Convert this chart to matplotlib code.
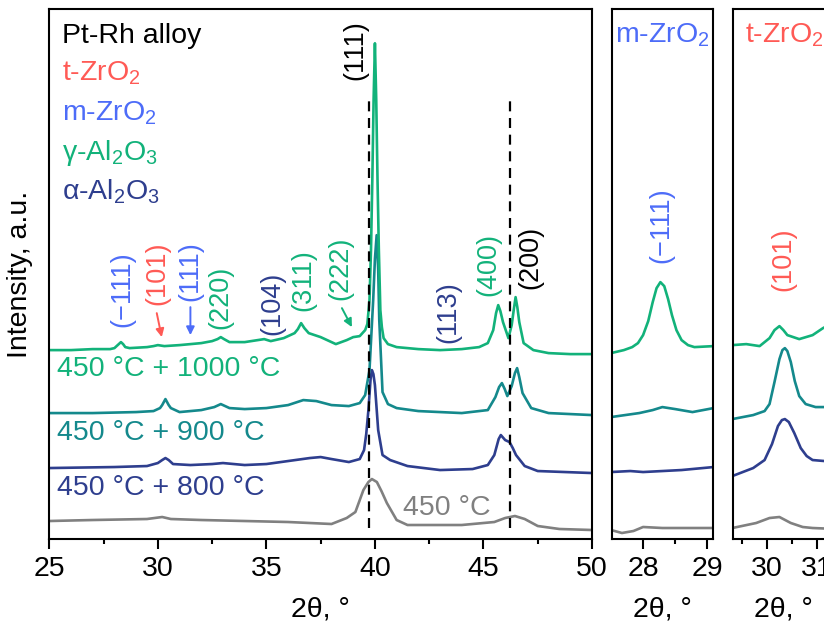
import matplotlib
matplotlib.use("Agg")
import matplotlib.pyplot as plt
from matplotlib.ticker import MultipleLocator

plt.rcParams['font.family'] = ['Liberation Sans', 'DejaVu Sans']
plt.rcParams['mathtext.fontset'] = 'custom'
plt.rcParams['mathtext.rm'] = 'Liberation Sans'
plt.rcParams['mathtext.it'] = 'Liberation Sans'
plt.rcParams['mathtext.default'] = 'regular'

# ---------------- data (2theta, intensity a.u.) ----------------
# main panel 25-50
g_x = [25, 26, 27, 27.8, 28.0, 28.1, 28.2, 28.3, 28.4, 28.5, 28.7, 29.5, 29.8, 30.0, 30.3, 31, 31.5, 32.0,
       32.5, 32.75, 32.9, 33.05, 33.3, 34.0, 34.6, 34.9, 35.2, 35.8, 36.3, 36.45, 36.6, 36.75, 36.95, 37.5,
       38.2, 38.7, 39.0, 39.3, 39.55, 39.65, 39.75, 39.82, 39.88, 39.94, 40.0, 40.06, 40.12, 40.18, 40.25,
       40.32, 40.4, 40.6, 41, 42, 43, 44, 44.8, 45.2, 45.45, 45.58, 45.68, 45.78, 45.9, 46.15, 46.3, 46.4,
       46.48, 46.56, 46.65, 46.85, 47.3, 48, 49, 50]
g_y = [189, 189, 190, 190, 191, 193, 195, 197, 195, 192, 191, 192, 193, 194, 193, 194, 195, 196,
       198, 200, 202, 200, 197, 197, 199, 200, 198, 201, 206, 210, 216, 211, 206, 202,
       195, 199, 202, 203, 209, 215, 239, 290, 359, 440, 496, 440, 359, 290, 229,
       212, 201, 195, 192, 190, 189, 190, 192, 196, 209, 226, 234, 228, 217, 201, 214, 230,
       242, 232, 217, 196, 189, 186, 185, 185]

t_x = [25, 27, 29, 29.8, 30.1, 30.2, 30.35, 30.5, 30.6, 31.0, 32.0, 32.6, 32.9, 33.3, 34, 35, 36, 36.7,
       37.3, 38, 38.8, 39.3, 39.55, 39.75, 39.92, 40.0, 40.08, 40.15, 40.2, 40.35, 40.6, 41, 42, 44, 45.2,
       45.55, 45.72, 45.85, 45.98, 46.1, 46.3, 46.45, 46.55, 46.65, 46.8, 47.2, 48, 50]
t_y = [126, 126, 127, 128, 131, 134, 140, 134, 131, 127, 129, 132, 135, 131, 130, 131, 134, 139,
       138, 134, 133, 136, 144, 169, 239, 280, 304, 270, 219, 147, 135, 131, 128, 126, 129,
       142, 152, 156, 150, 143, 153, 166, 171, 162, 146, 131, 126, 124]

n_x = [25, 28, 29.5, 30.0, 30.2, 30.35, 30.5, 30.7, 31.5, 32.5, 33, 34, 35, 36, 37.0, 37.5, 38.0, 38.8,
       39.3, 39.5, 39.6, 39.7, 39.8, 39.86, 39.93, 40.0, 40.15, 40.35, 40.7, 41.5, 43, 44.5, 45.2, 45.5,
       45.7, 45.8, 46.0, 46.2, 46.35, 46.5, 46.9, 47.5, 50]
n_y = [71, 72, 73, 76, 79, 81, 79, 75, 74, 75, 76, 74, 75, 78, 81, 82, 80, 77,
       80, 89, 105, 129, 160, 169, 165, 154, 109, 84, 79, 73, 69, 70, 74, 84,
       100, 104, 99, 97, 91, 84, 73, 68, 66]

a_x = [25, 27, 29.5, 30.2, 30.6, 32, 34, 36, 38, 38.7, 39.1, 39.47, 39.7, 39.86, 40.09, 40.3, 40.55,
       41.0, 41.5, 42, 44, 45.5, 46.0, 46.45, 46.9, 47.5, 48.5, 50]
a_y = [18, 19, 20, 22, 20, 19, 18, 17, 15, 21, 27, 49, 57, 60, 57, 48, 36,
       19, 14, 14, 14, 17, 21, 23, 20, 13, 10, 9]

# m-ZrO2 panel
m_g_x = [27.5, 27.7, 27.83, 27.92, 28.0, 28.08, 28.15, 28.21, 28.27, 28.33, 28.39, 28.45, 28.52, 28.6,
         28.7, 28.8, 29.1]
m_g_y = [186, 189, 192, 196, 204, 218, 237, 251, 257, 253, 240, 224, 209, 199, 194, 192, 193]
m_t_x = [27.5, 27.94, 28.15, 28.3, 28.5, 28.77, 29.1]
m_t_y = [122, 126, 129, 132, 130, 127, 131]
m_n_x = [27.5, 27.8, 28.0, 28.3, 28.6, 29.1]
m_n_y = [67, 68, 67, 68, 69, 72]
m_a_x = [27.5, 27.67, 27.85, 28.0, 28.3, 28.6, 29.1]
m_a_y = [9, 6, 8, 12, 11, 11, 11]

# t-ZrO2 panel
tz_g_x = [29.3, 29.58, 29.85, 30.05, 30.15, 30.25, 30.33, 30.41, 30.65, 30.92, 31.13, 31.4]
tz_g_y = [194, 195, 193, 201, 209, 213, 209, 204, 200, 204, 211, 218]
tz_t_x = [29.3, 29.72, 29.95, 30.05, 30.15, 30.25, 30.31, 30.36, 30.41, 30.48, 30.56, 30.65, 30.78,
          30.98, 31.4]
tz_t_y = [120, 124, 128, 135, 157, 180, 189, 191, 188, 177, 158, 143, 135, 132, 132]
tz_n_x = [29.3, 29.72, 29.95, 30.1, 30.22, 30.3, 30.36, 30.44, 30.55, 30.68, 30.8, 30.92, 31.4]
tz_n_y = [63, 71, 79, 95, 113, 119, 120, 117, 106, 91, 83, 79, 77]
tz_a_x = [29.3, 29.78, 30.05, 30.25, 30.48, 30.72, 30.92, 31.4]
tz_a_y = [11, 16, 21, 22, 16, 12, 11, 10]

ref_lines = [39.74, 46.23]
ref_span = (11, 444)

GREEN = '#12B27A'
TEAL = '#14898C'
NAVY = '#2E3E8E'
GRAY = '#808080'
RED = '#FF5A55'
BLUE = '#4D6CF8'

FS = 20.5
LFS = 19.5
LW = 1.9

fig = plt.figure(figsize=(8.24, 6.34), dpi=100)
W, H = 824.0, 634.0
bot = 539.0
top = 9.3
def add_ax(x0, x1):
    return fig.add_axes([x0 / W, (H - bot) / H, (x1 - x0) / W, (bot - top) / H])

ax = add_ax(49.3, 592.0)
ax2 = add_ax(612.3, 713.0)
ax3 = add_ax(732.7, 833.4)

for a in (ax, ax2, ax3):
    a.set_ylim(0, 530)
    a.set_yticks([])
    for s in a.spines.values():
        s.set_linewidth(1.5)
    a.tick_params(axis='x', which='major', direction='out', length=7, width=1.5, labelsize=FS, pad=5)
    a.tick_params(axis='x', which='minor', direction='out', length=3.5, width=1.5)
    a.set_xlabel('2θ, °', fontsize=FS, labelpad=11)

ax.set_xlim(25, 50)
ax.xaxis.set_major_locator(MultipleLocator(5))
ax.xaxis.set_minor_locator(MultipleLocator(2.5))
ax2.set_xlim(27.52, 29.09)
ax2.xaxis.set_major_locator(MultipleLocator(1))
ax2.xaxis.set_minor_locator(MultipleLocator(0.5))
ax3.set_xlim(29.306, 31.34)
ax3.xaxis.set_major_locator(MultipleLocator(1))
ax3.xaxis.set_minor_locator(MultipleLocator(0.5))

ax.set_ylabel('Intensity, a.u.', fontsize=FS, labelpad=12)

# curves
ax.plot(a_x, a_y, color=GRAY, lw=LW)
ax.plot(n_x, n_y, color=NAVY, lw=LW)
ax.plot(t_x, t_y, color=TEAL, lw=LW)
ax.plot(g_x, g_y, color=GREEN, lw=LW)
for xv in ref_lines:
    ax.plot([xv, xv], ref_span, color='black', lw=1.6, ls=(0, (4.5, 3)))

ax2.plot(m_a_x, m_a_y, color=GRAY, lw=LW)
ax2.plot(m_n_x, m_n_y, color=NAVY, lw=LW)
ax2.plot(m_t_x, m_t_y, color=TEAL, lw=LW)
ax2.plot(m_g_x, m_g_y, color=GREEN, lw=LW)

ax3.plot(tz_a_x, tz_a_y, color=GRAY, lw=LW)
ax3.plot(tz_n_x, tz_n_y, color=NAVY, lw=LW)
ax3.plot(tz_t_x, tz_t_y, color=TEAL, lw=LW)
ax3.plot(tz_g_x, tz_g_y, color=GREEN, lw=LW)

# legend-like texts
legend_items = [('Pt-Rh alloy', 'black', 496), ('t-ZrO$_2$', RED, 459), ('m-ZrO$_2$', BLUE, 419),
                ('γ-Al$_2$O$_3$', GREEN, 379), ('α-Al$_2$O$_3$', NAVY, 340)]
for txt, col, yy in legend_items:
    ax.text(0.024, yy, txt, color=col, fontsize=FS, va='baseline', ha='left',
            transform=ax.get_yaxis_transform())

# sample labels
samples = [('450 °C + 1000 °C', GREEN, 170), ('450 °C + 900 °C', TEAL, 106), ('450 °C + 800 °C', NAVY, 51)]
for txt, col, yy in samples:
    ax.text(0.014, yy, txt, color=col, fontsize=FS, va='center', ha='left',
            transform=ax.get_yaxis_transform())
ax.text(43.33, 31, '450 °C', color=GRAY, fontsize=FS, va='center', ha='center')

# peak labels (rotated)
peak_labels = [('(−111)', BLUE, 28.35, 250), ('(101)', RED, 29.96, 266), ('(111)', BLUE, 31.48, 268),
               ('(220)', GREEN, 32.87, 242), ('(104)', NAVY, 35.26, 236), ('(311)', GREEN, 36.69, 259),
               ('(222)', GREEN, 38.4, 271), ('(113)', NAVY, 43.37, 227), ('(400)', GREEN, 45.21, 275),
               ('(200)', 'black', 47.15, 282), ('(111)', 'black', 39.08, 489)]
for txt, col, xx, yy in peak_labels:
    ax.text(xx, yy, txt, color=col, fontsize=LFS, rotation=90, ha='center', va='center')

arrows = [(RED, (29.95, 226), (30.18, 202)), (BLUE, (31.5, 232), (31.5, 204)),
          (GREEN, (38.48, 231), (38.94, 212))]
for col, p0, p1 in arrows:
    ax.annotate('', xy=p1, xytext=p0,
                arrowprops=dict(arrowstyle='-|>', color=col, lw=1.4, mutation_scale=12,
                                shrinkA=0, shrinkB=0))

ax2.text(0.03, 497, 'm-ZrO$_2$', color=BLUE, fontsize=FS, va='baseline', ha='left',
         transform=ax2.get_yaxis_transform())
ax2.text(28.29, 314, '(−111)', color=BLUE, fontsize=LFS, rotation=90, ha='center', va='center')
ax3.text(0.12, 497, 't-ZrO$_2$', color=RED, fontsize=FS, va='baseline', ha='left',
         transform=ax3.get_yaxis_transform())
ax3.text(30.32, 280, '(101)', color=RED, fontsize=LFS, rotation=90, ha='center', va='center')

fig.savefig('out.png', dpi=100)
